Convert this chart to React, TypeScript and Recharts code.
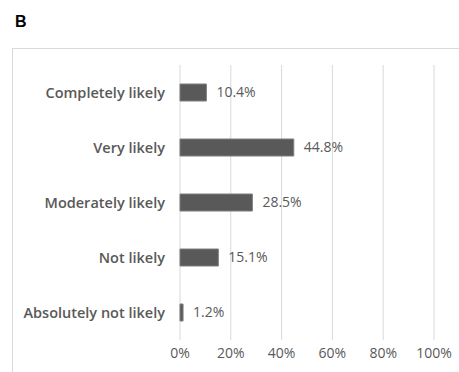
import { Bar, BarChart, CartesianGrid, LabelList, XAxis, YAxis } from "recharts";

const categories = ["Completely likely", "Very likely", "Moderately likely", "Not likely", "Absolutely not likely"];
const percents = [10.4, 44.8, 28.5, 15.1, 1.2];
const xTicks = [0, 20, 40, 60, 80, 100];

const data = categories.map((name, i) => ({ name, value: percents[i] }));

const textColor = "#595959";
const font = "'Open Sans', 'Noto Sans', sans-serif";

export default function App() {
    return (
        <div style={{ position: "absolute", left: 0, top: 0, width: 459, height: 372, background: "#fff", fontFamily: font }}>
            <div
                style={{
                    position: "absolute",
                    left: 15,
                    top: 13,
                    fontFamily: "'Liberation Sans', Arial, sans-serif",
                    fontWeight: 700,
                    fontSize: 16,
                    color: "#000",
                }}
            >
                B
            </div>
            <div
                style={{
                    position: "absolute",
                    left: 12,
                    top: 48,
                    right: 0,
                    bottom: 0,
                    borderTop: "1px solid #d9d9d9",
                    borderLeft: "1px solid #d9d9d9",
                }}
            />
            <div style={{ position: "absolute", left: 0, top: 0 }}>
                <BarChart
                    width={459}
                    height={372}
                    data={data}
                    layout="vertical"
                    margin={{ top: 65, right: 25, bottom: 2, left: 0 }}
                >
                    <CartesianGrid horizontal={false} stroke="#d9d9d9" />
                    <XAxis
                        type="number"
                        domain={[0, 100]}
                        ticks={xTicks}
                        tickFormatter={(v) => `${v}%`}
                        axisLine={false}
                        tickLine={false}
                        height={30}
                        tick={{ fill: textColor, fontSize: 14, fontFamily: font }}
                    />
                    <YAxis
                        type="category"
                        dataKey="name"
                        width={180}
                        axisLine={false}
                        tickLine={false}
                        tickSize={0}
                        tickMargin={15}
                        tick={{ fill: textColor, fontSize: 14.5, fontWeight: 600, fontFamily: font }}
                    />
                    <Bar dataKey="value" barSize={17} fill="#595959" stroke="#7f7f7f" strokeWidth={1} isAnimationActive={false}>
                        <LabelList
                            dataKey="value"
                            position="right"
                            offset={10}
                            formatter={(v: number) => `${v}%`}
                            fill={textColor}
                            fontSize={14}
                            fontFamily={font}
                        />
                    </Bar>
                </BarChart>
            </div>
        </div>
    );
}
